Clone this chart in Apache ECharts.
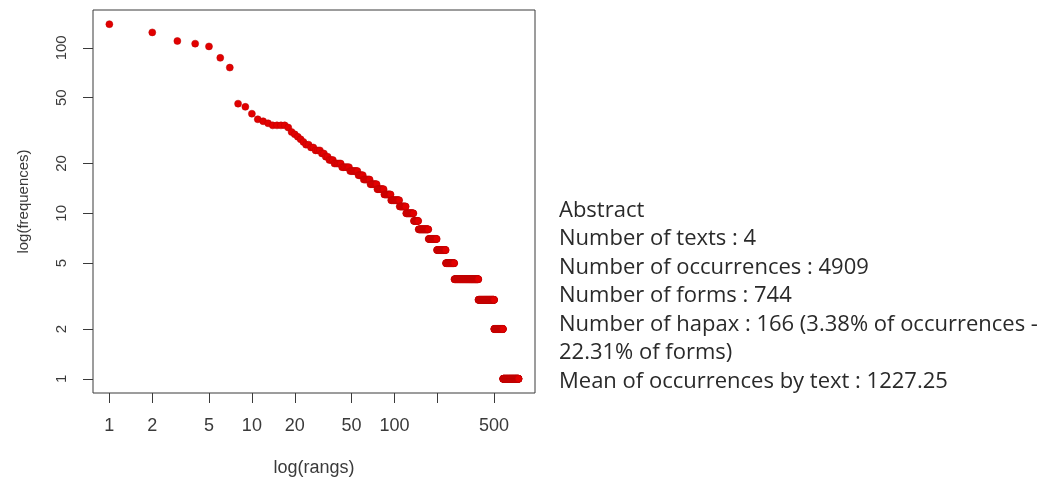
<!DOCTYPE html>
<html>
<head>
<meta charset="utf-8">
<script src="https://cdn.jsdelivr.net/npm/echarts@6/dist/echarts.min.js"></script>
<style>
html,body{margin:0;padding:0;background:#fff;}
#chart{width:1049px;height:477px;}
</style>
</head>
<body>
<div id="chart"></div>
<script>
// Frequency spectrum: each frequency value and how many forms have it (ranked in descending order)
const frequencies = [139,124,110,106,102,87,76,46,44,40,37,36,35,34,33,31,30,29,28,27,26,25,24,23,22,21,20,19,18,17,16,15,14,13,12,11,10,9,8,7,6,5,4,3,2,1];
const formCounts  = [1,1,1,1,1,1,1,1,1,1,1,1,1,4,1,1,1,1,1,1,2,2,3,2,2,3,5,6,7,5,7,8,9,10,14,12,16,11,26,25,31,34,125,113,77,166];

const xTickValues = [1,2,5,10,20,50,100,200,500];
const xLabelValues = [1,2,5,10,20,50,100,500];
const yTickValues = [1,2,5,10,20,50,100];

const statsLines = [
  'Abstract',
  'Number of texts : 4',
  'Number of occurrences : 4909',
  'Number of forms : 744',
  'Number of hapax : 166 (3.38% of occurrences -',
  '22.31% of forms)',
  'Mean of occurrences by text : 1227.25'
];

// build rank/frequency points
const points = [];
let rank = 0;
for (let i = 0; i < frequencies.length; i++) {
  for (let k = 0; k < formCounts[i]; k++) {
    rank += 1;
    points.push([rank, frequencies[i]]);
  }
}

const axisColor = '#3a3a3a';
const chart = echarts.init(document.getElementById('chart'), null, {renderer: 'canvas'});
chart.setOption({
  animation: false,
  backgroundColor: '#ffffff',
  grid: {
    left: 93, top: 10, width: 442, height: 383,
    show: true, borderColor: axisColor, borderWidth: 1,
    outerBoundsMode: 'none'
  },
  xAxis: {
    type: 'log', logBase: 10,
    min: 0.7676, max: 969.6,
    name: 'log(rangs)', nameLocation: 'middle', nameGap: 66,
    nameTextStyle: {fontFamily: 'Liberation Sans', fontSize: 18, color: axisColor},
    axisLine: {show: false},
    splitLine: {show: false},
    axisTick: {show: true, inside: false, length: 10, lineStyle: {color: axisColor, width: 1}, customValues: xTickValues},
    axisLabel: {show: true, margin: 24, fontFamily: 'Liberation Sans', fontSize: 18, color: axisColor, customValues: xLabelValues,
      formatter: v => String(Math.round(v))}
  },
  yAxis: {
    type: 'log', logBase: 10,
    min: 0.8208, max: 169.3,
    name: 'log(frequences)', nameLocation: 'middle', nameGap: 62, nameRotate: 90,
    nameTextStyle: {fontFamily: 'Liberation Sans', fontSize: 15, color: axisColor},
    axisLine: {show: false},
    splitLine: {show: false},
    axisTick: {show: true, inside: false, length: 10, lineStyle: {color: axisColor, width: 1}, customValues: yTickValues},
    axisLabel: {show: true, rotate: 90, margin: 24, fontFamily: 'Liberation Sans', fontSize: 15, color: axisColor, customValues: yTickValues,
      formatter: v => String(Math.round(v))}
  },
  series: [{
    type: 'scatter',
    data: points,
    symbol: 'circle',
    symbolSize: 7,
    itemStyle: {color: '#e20000', borderColor: '#b80000', borderWidth: 0.5, opacity: 1}
  }],
  graphic: [{
    type: 'text',
    left: 559, top: 196,
    style: {
      text: statsLines.join('\n'),
      fontFamily: 'Open Sans', fontSize: 22, lineHeight: 28.5,
      fill: '#2a2a2a'
    }
  }]
});
</script>
</body>
</html>
